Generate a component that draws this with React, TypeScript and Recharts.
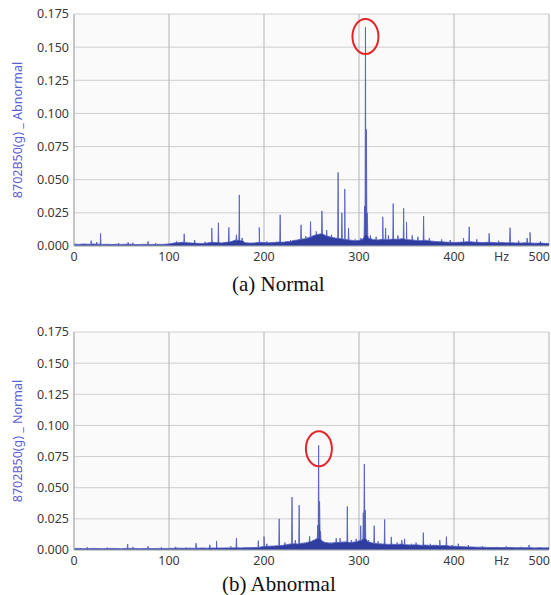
import { AreaChart, Area, XAxis, YAxis, CartesianGrid, ReferenceDot } from "recharts";

// noise floor, one value every 5 Hz from 0 to 500
const FLOOR_STEP = 5;

const floorA = [
  0.0015, 0.0012, 0.0015, 0.0013, 0.0016, 0.0014, 0.0012, 0.0013, 0.0011, 0.0013,
  0.0012, 0.0014, 0.0013, 0.0011, 0.0012, 0.0013, 0.0012, 0.0011, 0.0012, 0.0013,
  0.0016, 0.0022, 0.0025, 0.0028, 0.0024, 0.0022, 0.002, 0.0019, 0.0022, 0.003,
  0.0026, 0.0022, 0.0028, 0.0032, 0.0045, 0.004, 0.0024, 0.0022, 0.0023, 0.0028,
  0.0026, 0.0024, 0.0027, 0.003, 0.0028, 0.0034, 0.004, 0.0045, 0.0052, 0.006,
  0.0072, 0.0085, 0.0092, 0.0078, 0.0068, 0.006, 0.0055, 0.005, 0.0045, 0.004,
  0.0042, 0.006, 0.0058, 0.0048, 0.0045, 0.005, 0.0048, 0.0052, 0.005, 0.0055,
  0.0048, 0.0046, 0.0042, 0.004, 0.0044, 0.0038, 0.0034, 0.0032, 0.003, 0.0028,
  0.0027, 0.0028, 0.003, 0.0033, 0.003, 0.0028, 0.0026, 0.0028, 0.0027, 0.0025,
  0.0026, 0.0024, 0.0025, 0.0023, 0.0022, 0.0024, 0.0023, 0.0021, 0.0022, 0.002,
  0.0019,
];

// [Hz, peak amplitude, local floor]
const peaksA = [
  [18, 0.004, 0.0013], [24, 0.003, 0.0013], [28, 0.0095, 0.0013], [47, 0.0022, 0.0012],
  [57, 0.0028, 0.0013], [62, 0.0025, 0.0012], [78, 0.0035, 0.0012], [86, 0.0022, 0.0011],
  [108, 0.0035, 0.0024], [116, 0.0092, 0.0027], [127, 0.0045, 0.0022], [138, 0.0032, 0.002],
  [145, 0.0135, 0.0028], [152, 0.0175, 0.0026], [163, 0.014, 0.003], [171, 0.0085, 0.0042],
  [174, 0.0385, 0.0045], [177, 0.006, 0.004], [195, 0.014, 0.0028], [203, 0.0035, 0.0025],
  [217, 0.0235, 0.003], [228, 0.0045, 0.0032], [239, 0.016, 0.005], [244, 0.0075, 0.0055],
  [249, 0.0185, 0.0065], [255, 0.011, 0.0085], [261, 0.0265, 0.0092], [266, 0.012, 0.0075],
  [271, 0.0085, 0.0065], [278, 0.0555, 0.0058], [282, 0.025, 0.0055], [285, 0.043, 0.005],
  [289, 0.0135, 0.0045], [296, 0.005, 0.004], [302, 0.006, 0.0045],
  [305.8, 0.03, 0.008], [306.8, 0.165, 0.03], [307.8, 0.088, 0.03], [308.8, 0.025, 0.008],
  [312, 0.008, 0.0055], [318, 0.007, 0.0048], [325, 0.022, 0.005], [328, 0.0135, 0.0048],
  [331, 0.008, 0.0048], [336, 0.032, 0.0052], [341, 0.008, 0.005], [347, 0.0285, 0.0055],
  [350, 0.018, 0.0048], [356, 0.008, 0.0046], [362, 0.007, 0.0042], [368, 0.0225, 0.0042],
  [374, 0.006, 0.0038], [387, 0.005, 0.0032], [396, 0.0045, 0.0028], [410, 0.006, 0.003],
  [416, 0.0145, 0.0033], [424, 0.005, 0.0028], [437, 0.0095, 0.0028], [447, 0.004, 0.0025],
  [459, 0.0138, 0.0025], [468, 0.004, 0.0023], [477, 0.006, 0.0024], [480, 0.0103, 0.0023],
  [491, 0.0035, 0.0022],
];

const floorB = [
  0.0012, 0.0013, 0.0011, 0.0012, 0.0013, 0.0012, 0.0011, 0.0012, 0.0013, 0.0012,
  0.0011, 0.0013, 0.0012, 0.0012, 0.0011, 0.0013, 0.0012, 0.0012, 0.0013, 0.0012,
  0.0013, 0.0014, 0.0015, 0.0014, 0.0015, 0.0014, 0.0015, 0.0016, 0.0015, 0.0016,
  0.0017, 0.0016, 0.0017, 0.0018, 0.0018, 0.0017, 0.0019, 0.0018, 0.002, 0.0022,
  0.0028, 0.003, 0.0032, 0.0035, 0.0038, 0.0045, 0.005, 0.0048, 0.0055, 0.006,
  0.007, 0.009, 0.0085, 0.006, 0.0055, 0.006, 0.0062, 0.0065, 0.006, 0.0065,
  0.0075, 0.009, 0.0065, 0.0055, 0.005, 0.0048, 0.0045, 0.0046, 0.0044, 0.0048,
  0.0042, 0.004, 0.0042, 0.0038, 0.004, 0.0036, 0.0038, 0.0035, 0.0036, 0.0032,
  0.003, 0.0028, 0.0026, 0.0025, 0.0024, 0.0022, 0.0023, 0.0021, 0.002, 0.0021,
  0.002, 0.0019, 0.002, 0.0018, 0.0019, 0.0018, 0.0019, 0.0017, 0.0018, 0.0017,
  0.0018,
];

const peaksB = [
  [14, 0.0022, 0.0012], [35, 0.002, 0.0012], [56.5, 0.0048, 0.0013], [62, 0.0025, 0.0012],
  [78, 0.003, 0.0012], [92, 0.0022, 0.0012], [107, 0.0025, 0.0015], [118, 0.002, 0.0014],
  [128.5, 0.0055, 0.0015], [143, 0.0042, 0.0016], [150, 0.0072, 0.0016], [165, 0.003, 0.0017],
  [171, 0.0095, 0.0018], [185, 0.0025, 0.0018], [194, 0.0075, 0.002], [200, 0.0108, 0.0028],
  [203, 0.005, 0.003], [216, 0.025, 0.0035], [222, 0.006, 0.004], [229.5, 0.0425, 0.005],
  [233, 0.008, 0.005], [237, 0.036, 0.005], [243, 0.006, 0.0055], [248, 0.011, 0.0065],
  [253, 0.008, 0.008],
  [256.5, 0.02, 0.009], [257.5, 0.084, 0.02], [258.5, 0.039, 0.02], [259.5, 0.015, 0.0085],
  [263, 0.007, 0.006], [270, 0.006, 0.0055], [276, 0.0095, 0.006], [280, 0.0095, 0.0062],
  [287.7, 0.035, 0.0065], [292, 0.008, 0.006], [297, 0.009, 0.0065], [301.8, 0.0195, 0.0075],
  [304.5, 0.03, 0.009], [305.6, 0.069, 0.03], [306.7, 0.032, 0.009],
  [310, 0.008, 0.0065], [316, 0.0195, 0.0055], [320, 0.007, 0.005], [327, 0.0245, 0.0048],
  [334, 0.0105, 0.0046], [340, 0.006, 0.0044], [345, 0.008, 0.0048], [348, 0.009, 0.0042],
  [355, 0.005, 0.004], [360, 0.006, 0.0042], [367.7, 0.014, 0.0038], [375, 0.005, 0.0036],
  [385, 0.008, 0.0035], [392, 0.0107, 0.0036], [398, 0.004, 0.003], [404.5, 0.005, 0.0028],
  [415, 0.004, 0.0025], [430, 0.003, 0.0023], [445, 0.0025, 0.002], [455, 0.003, 0.002],
  [470, 0.0025, 0.0019], [479, 0.004, 0.0019], [490, 0.0022, 0.0018],
];

// circled peaks [Hz, amplitude]
const markA = [306.8, 0.158];
const markB = [257.8, 0.0813];

const xTicks = [0, 100, 200, 300, 400, 450, 500];
const xGrid = [0, 100, 200, 300, 400, 500];
const yTicks = [0, 0.025, 0.05, 0.075, 0.1, 0.125, 0.15, 0.175];

const labelA = "8702B50(g) _ Abnormal";
const labelB = "8702B50(g) _ Normal";
const captionA = "(a) Normal";
const captionB = "(b) Abnormal";

function buildRows(floor: number[], peaks: number[][]) {
  const rows = floor.map((v, i) => ({ hz: i * FLOOR_STEP, amp: v }));
  peaks.forEach(([hz, top, base]) => {
    rows.push({ hz: hz - 0.4, amp: base }, { hz, amp: top }, { hz: hz + 0.4, amp: base });
  });
  return rows.sort((a, b) => a.hz - b.hz);
}

const FONT = "'Noto Sans', 'Liberation Sans', Arial, sans-serif";

function XTick(props: any) {
  const { x, y, payload } = props;
  const v = payload.value;
  // last label sits flush with the right edge of the plot
  const anchor = v === 500 ? "end" : "middle";
  return (
    <text x={v === 500 ? x + 1 : x} y={y} dy="0.71em" textAnchor={anchor} fontSize={12.5} fontFamily={FONT} fill="#3a3a3a">
      {v === 450 ? "Hz" : v}
    </text>
  );
}

function Ellipse(props: any) {
  return <ellipse cx={props.cx} cy={props.cy} rx={13} ry={17.5} fill="none" stroke="#e3262b" strokeWidth={2} />;
}

function Spectrum({ rows, label, mark, height }: { rows: any[]; label: string; mark: number[]; height: number }) {
  return (
    <AreaChart width={551} height={height} data={rows} margin={{ top: 14, right: 2, bottom: 4, left: 10 }}>
      <CartesianGrid vertical={false} stroke="#cfcfcf" fill="#fafafa" fillOpacity={1} />
      <CartesianGrid horizontal={false} stroke="#b4b4b4" verticalValues={xGrid} />
      <XAxis
        dataKey="hz"
        type="number"
        domain={[0, 500]}
        ticks={xTicks}
        allowDataOverflow
        height={20}
        tickLine={false}
        tickSize={0}
        tickMargin={6}
        axisLine={{ stroke: "#b4b4b4" }}
        tick={<XTick />}
        interval={0}
      />
      <YAxis
        domain={[0, 0.175]}
        ticks={yTicks}
        allowDataOverflow
        width={64}
        tickLine={false}
        tickSize={0}
        tickMargin={5}
        axisLine={{ stroke: "#b4b4b4" }}
        tickFormatter={(v: number) => v.toFixed(3)}
        tick={{ fontSize: 12.5, fontFamily: FONT, fill: "#3a3a3a" }}
        interval={0}
        label={{
          value: label,
          angle: -90,
          position: "insideLeft",
          offset: 8,
          style: { textAnchor: "middle", fill: "#5a60cf", fontSize: 12.5, fontFamily: FONT },
        }}
      />
      <Area
        type="linear"
        dataKey="amp"
        stroke="#5560c4"
        strokeOpacity={0.85}
        strokeWidth={1}
        fill="#2f3d9f"
        fillOpacity={1}
        dot={false}
        activeDot={false}
        isAnimationActive={false}
      />
      <ReferenceDot x={mark[0]} y={mark[1]} r={1} shape={<Ellipse />} />
    </AreaChart>
  );
}

const rowsA = buildRows(floorA, peaksA);
const rowsB = buildRows(floorB, peaksB);

const captionStyle: React.CSSProperties = {
  position: "absolute",
  fontFamily: "'Liberation Serif', 'Times New Roman', serif",
  fontSize: 21,
  lineHeight: "21px",
  color: "#111",
  whiteSpace: "nowrap",
};

export default function App() {
  return (
    <div style={{ position: "absolute", left: 0, top: 0, width: 551, height: 595, background: "#fff", overflow: "hidden" }}>
      <div style={{ position: "absolute", left: 0, top: 0 }}>
        <Spectrum rows={rowsA} label={labelA} mark={markA} height={270} />
      </div>
      <div style={{ ...captionStyle, left: 232, top: 274 }}>{captionA}</div>
      <div style={{ position: "absolute", left: 0, top: 318 }}>
        <Spectrum rows={rowsB} label={labelB} mark={markB} height={256} />
      </div>
      <div style={{ ...captionStyle, left: 222, top: 574 }}>{captionB}</div>
    </div>
  );
}
